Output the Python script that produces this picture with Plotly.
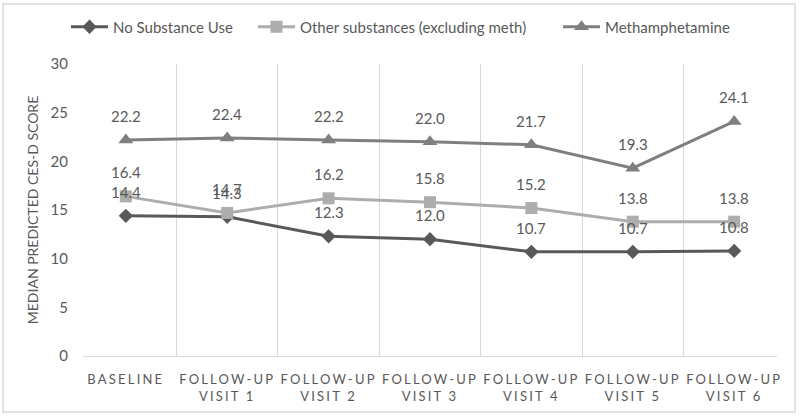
import plotly.graph_objects as go

categories = ["BASELINE", "FOLLOW-UP<br>VISIT 1", "FOLLOW-UP<br>VISIT 2", "FOLLOW-UP<br>VISIT 3",
              "FOLLOW-UP<br>VISIT 4", "FOLLOW-UP<br>VISIT 5", "FOLLOW-UP<br>VISIT 6"]
no_use = [14.4, 14.3, 12.3, 12.0, 10.7, 10.7, 10.8]
other = [16.4, 14.7, 16.2, 15.8, 15.2, 13.8, 13.8]
meth = [22.2, 22.4, 22.2, 22.0, 21.7, 19.3, 24.1]
y_ticks = [0, 5, 10, 15, 20, 25, 30]

series = [
    ("No Substance Use", no_use, "#595959", "diamond", 11, "legend"),
    ("Other substances (excluding meth)", other, "#ADADAD", "square", 12, "legend2"),
    ("Methamphetamine", meth, "#7F7F7F", "triangle-up", 13, "legend3"),
]

FONT = "Lato, Open Sans, sans-serif"
TXT = "#595959"

fig = go.Figure()
annotations = []
for name, vals, col, sym, ms, lg in series:
    fig.add_trace(go.Scatter(
        x=categories, y=vals, name=name, mode="lines+markers", legend=lg, showlegend=True,
        line=dict(color=col, width=3), marker=dict(symbol=sym, size=ms, color=col),
    ))
    for c, v in zip(categories, vals):
        annotations.append(dict(x=c, y=v, text=f"{v:.1f}", showarrow=False, yshift=24,
                                font=dict(family=FONT, size=15, color=TXT)))

W, H = 800, 417
ml, mr, mt, mb = 83, 23, 64, 61
pw, ph = W - ml - mr, H - mt - mb


def legend_at(px):
    return dict(orientation="h", xref="container", yref="container", x=px / W, xanchor="left",
                y=1 - 27 / H, yanchor="middle",
                font=dict(size=15, color=TXT), itemwidth=37, bgcolor="rgba(0,0,0,0)")


fig.update_layout(
    width=W, height=H,
    margin=dict(l=ml, r=mr, t=mt, b=mb, autoexpand=False),
    paper_bgcolor="white", plot_bgcolor="white",
    font=dict(family=FONT, size=15, color=TXT),
    legend=legend_at(66),
    legend2=legend_at(253),
    legend3=legend_at(558),
    annotations=annotations,
    xaxis=dict(type="category", tickson="boundaries", showgrid=True, gridcolor="#D9D9D9",
               gridwidth=1, ticks="", showline=True, linecolor="#D9D9D9", mirror=False,
               tickfont=dict(size=13, color=TXT), zeroline=False, ticklabelstandoff=11,
               automargin=False),
    yaxis=dict(range=[0, 30], tickvals=y_ticks, showgrid=False, zeroline=False, showline=False,
               ticks="", tickfont=dict(size=15, color=TXT), ticklabelstandoff=14, automargin=False,
               title=dict(text="MEDIAN PREDICTED CES-D SCORE", font=dict(size=14, color=TXT), standoff=8)),
    shapes=[dict(type="rect", xref="paper", yref="paper",
                 x0=(3 - ml) / pw, x1=(795 - ml) / pw, y0=-(412 - mt - ph) / ph, y1=1 + (mt - 4) / ph,
                 line=dict(color="#D9D9D9", width=1.5))],
)

html = fig.to_html(full_html=True, include_plotlyjs=True, config={"displayModeBar": False})
css = ("<style>html,body{margin:0;padding:0;}"
       ".xaxislayer-above .xtick text{letter-spacing:2.2px;}</style>")
html = html.replace("<head>", "<head>" + css, 1)
with open("out.html", "w", encoding="utf-8") as f:
    f.write(html)
